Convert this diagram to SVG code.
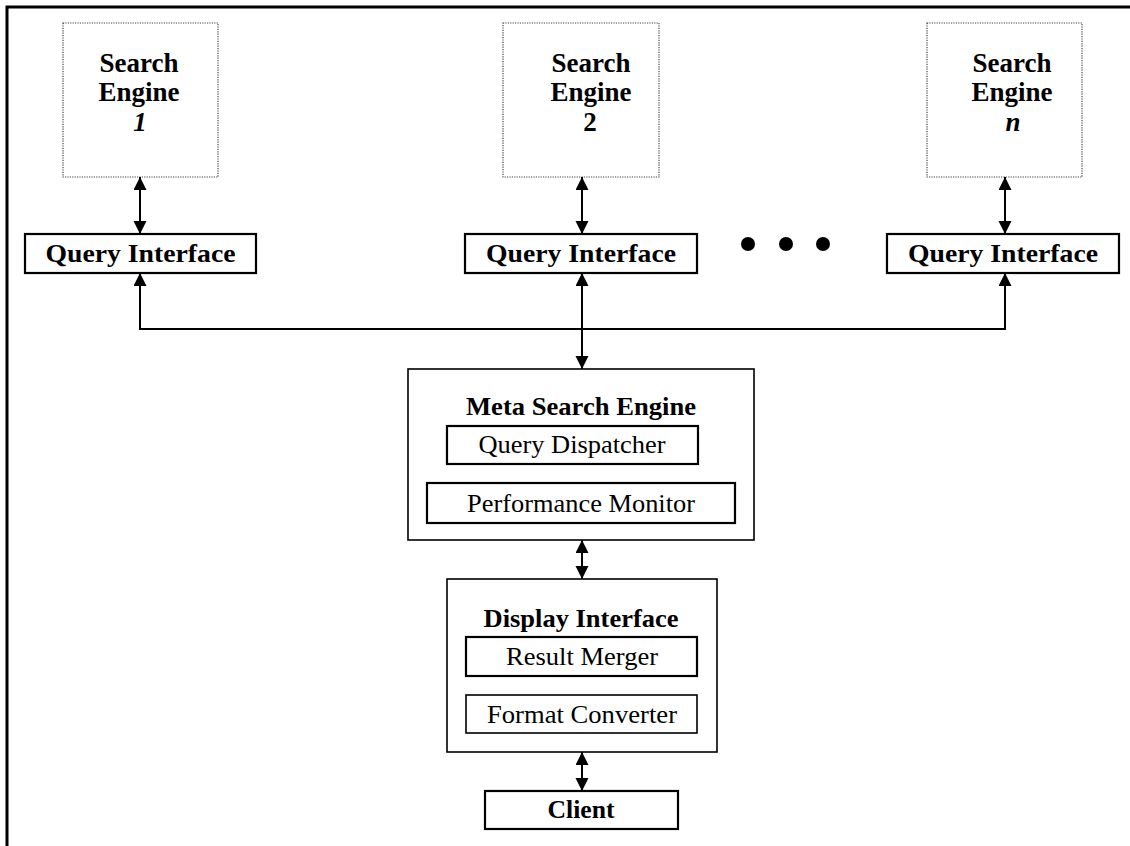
<svg xmlns="http://www.w3.org/2000/svg" width="1130" height="846" viewBox="0 0 1130 846">
<style>
.frame{fill:none;stroke:#000;stroke-width:3}
.se{fill:#fff;stroke:#444;stroke-width:1.2;stroke-dasharray:1.2 1.2}
.box{fill:#fff;stroke:#000;stroke-width:2.2}
.thin{fill:#fff;stroke:#000;stroke-width:1.6}
.b{font-family:"Liberation Serif","Times New Roman",serif;font-weight:bold;fill:#000;text-anchor:middle}
.r{font-family:"Liberation Serif","Times New Roman",serif;fill:#000;text-anchor:middle}
.t27{font-size:27px}
.t26{font-size:26px}
.t25{font-size:25px}
.con{fill:none;stroke:#000;stroke-width:2}
</style>
<defs>
<marker id="ah" markerUnits="userSpaceOnUse" markerWidth="14" markerHeight="14" refX="13" refY="6.5" orient="auto-start-reverse" viewBox="0 0 14 14">
<path d="M0,0 L13,6.5 L0,13 z" fill="#000"/>
</marker>
</defs>
<rect width="1130" height="846" fill="#fff"/>
<path class="frame" d="M7,846 V7 H1130"/>

<g id="se1">
<rect class="se" x="63" y="23" width="155" height="154"/>
<text class="b t27" x="139" y="72">Search</text>
<text class="b t27" x="139" y="101">Engine</text>
<text class="b t27" x="140" y="131" font-style="italic">1</text>
</g>
<g id="se2">
<rect class="se" x="503" y="23" width="156" height="154"/>
<text class="b t27" x="591" y="72">Search</text>
<text class="b t27" x="591" y="101">Engine</text>
<text class="b t27" x="590" y="131">2</text>
</g>
<g id="sen">
<rect class="se" x="927" y="23" width="155" height="154"/>
<text class="b t27" x="1012" y="72">Search</text>
<text class="b t27" x="1012" y="101">Engine</text>
<text class="b t27" x="1013" y="131" font-style="italic">n</text>
</g>

<g id="qi1">
<rect class="box" x="25" y="234" width="231" height="39"/>
<text class="b t26" x="140.5" y="262" textLength="190" lengthAdjust="spacingAndGlyphs">Query Interface</text>
</g>
<g id="qi2">
<rect class="box" x="465" y="234" width="232" height="39"/>
<text class="b t26" x="581" y="262" textLength="190" lengthAdjust="spacingAndGlyphs">Query Interface</text>
</g>
<g id="qin">
<rect class="box" x="887" y="234" width="232" height="39"/>
<text class="b t26" x="1003" y="262" textLength="190" lengthAdjust="spacingAndGlyphs">Query Interface</text>
</g>

<g id="dots">
<circle cx="748" cy="244" r="7"/>
<circle cx="786" cy="244" r="7"/>
<circle cx="823" cy="244" r="7"/>
</g>

<g id="mse">
<rect class="thin" x="408" y="369" width="346" height="171"/>
<text class="b t26" x="581" y="415" textLength="230" lengthAdjust="spacingAndGlyphs">Meta Search Engine</text>
<rect class="box" x="447" y="426" width="251" height="38"/>
<text class="r t25" x="572" y="453" textLength="187" lengthAdjust="spacingAndGlyphs">Query Dispatcher</text>
<rect class="box" x="427" y="483" width="308" height="40"/>
<text class="r t25" x="581" y="512" textLength="228" lengthAdjust="spacingAndGlyphs">Performance Monitor</text>
</g>

<g id="di">
<rect class="thin" x="447" y="579" width="270" height="173"/>
<text class="b t26" x="581" y="627" textLength="195" lengthAdjust="spacingAndGlyphs">Display Interface</text>
<rect class="box" x="466" y="637" width="231" height="39"/>
<text class="r t25" x="582" y="665" textLength="152" lengthAdjust="spacingAndGlyphs">Result Merger</text>
<rect class="thin" x="466" y="695" width="231" height="38"/>
<text class="r t25" x="582" y="723" textLength="190" lengthAdjust="spacingAndGlyphs">Format Converter</text>
</g>

<g id="client">
<rect class="box" x="485" y="791" width="193" height="38"/>
<text class="b t26" x="581" y="818" textLength="67" lengthAdjust="spacingAndGlyphs">Client</text>
</g>

<g id="connectors">
<line class="con" x1="140" y1="177" x2="140" y2="234" marker-start="url(#ah)" marker-end="url(#ah)"/>
<line class="con" x1="582" y1="177" x2="582" y2="234" marker-start="url(#ah)" marker-end="url(#ah)"/>
<line class="con" x1="1005" y1="177" x2="1005" y2="234" marker-start="url(#ah)" marker-end="url(#ah)"/>
<path class="con" d="M140,273 V329 H1005 V273"/>
<line class="con" x1="140" y1="329" x2="140" y2="273" marker-end="url(#ah)"/>
<line class="con" x1="1005" y1="329" x2="1005" y2="273" marker-end="url(#ah)"/>
<line class="con" x1="582" y1="273" x2="582" y2="369" marker-start="url(#ah)" marker-end="url(#ah)"/>
<line class="con" x1="582" y1="540" x2="582" y2="579" marker-start="url(#ah)" marker-end="url(#ah)"/>
<line class="con" x1="582" y1="752" x2="582" y2="791" marker-start="url(#ah)" marker-end="url(#ah)"/>
</g>
</svg>
